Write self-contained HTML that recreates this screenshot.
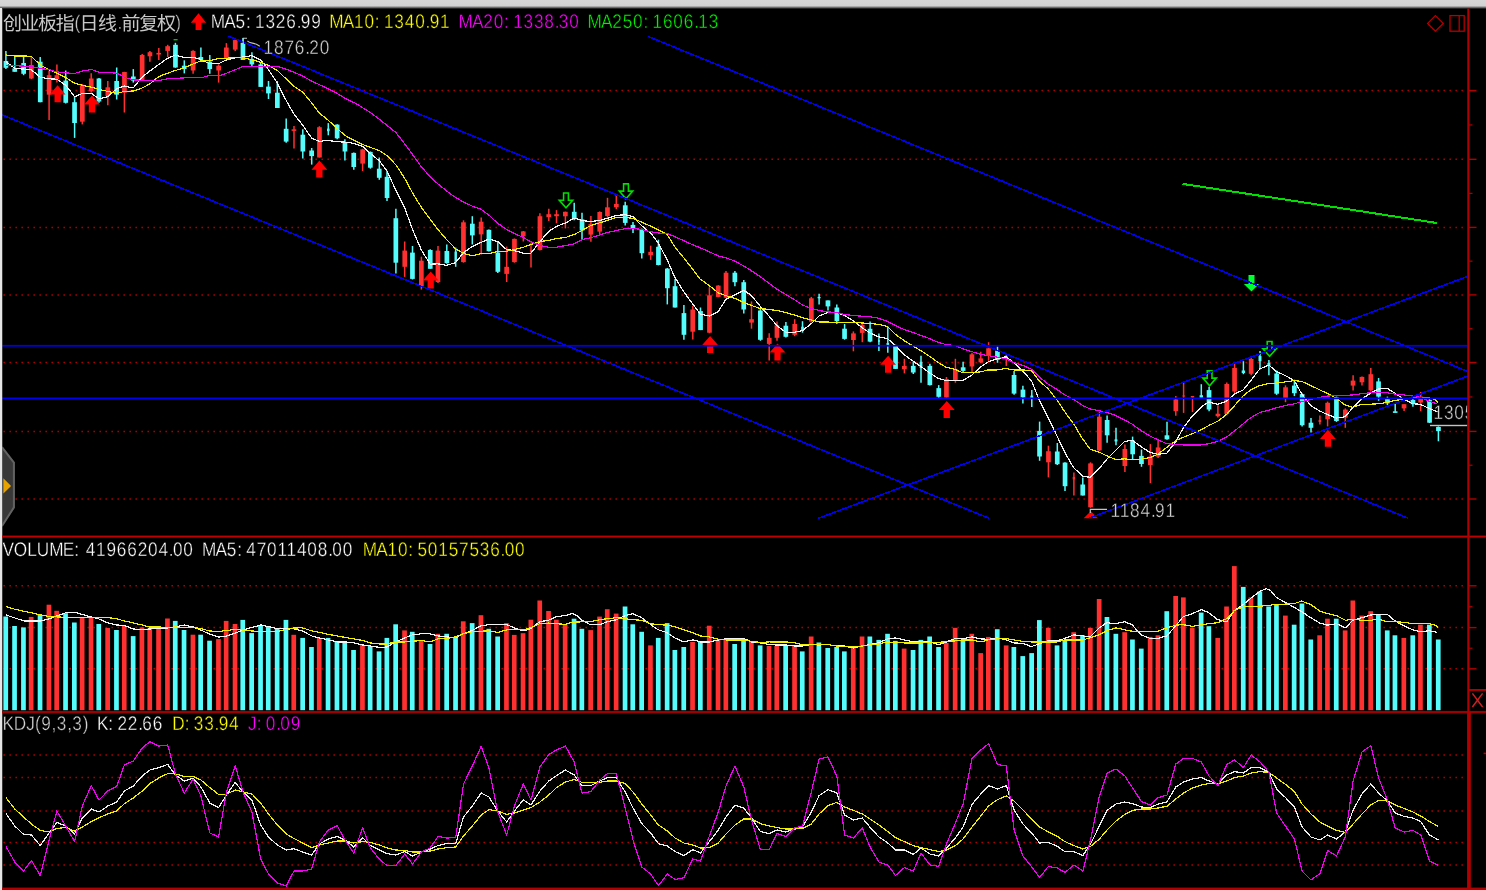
<!DOCTYPE html><html><head><meta charset="utf-8"><title>chart</title><style>html,body{margin:0;padding:0;background:#000;overflow:hidden}svg{display:block;will-change:transform}text{text-rendering:geometricPrecision}</style></head><body><svg width="1486" height="890" viewBox="0 0 1486 890">
<rect x="0" y="0" width="1486" height="890" fill="#000"/>
<line x1="3.45" y1="90.60" x2="1464.00" y2="90.60" stroke="#b40000" stroke-width="1.5" stroke-dasharray="1.5 4.500"/>
<line x1="3.45" y1="159.30" x2="1464.00" y2="159.30" stroke="#b40000" stroke-width="1.5" stroke-dasharray="1.5 4.500"/>
<line x1="3.45" y1="227.40" x2="1464.00" y2="227.40" stroke="#b40000" stroke-width="1.5" stroke-dasharray="1.5 4.500"/>
<line x1="3.45" y1="294.90" x2="1464.00" y2="294.90" stroke="#b40000" stroke-width="1.5" stroke-dasharray="1.5 4.500"/>
<line x1="3.45" y1="362.50" x2="1464.00" y2="362.50" stroke="#b40000" stroke-width="1.5" stroke-dasharray="1.5 4.500"/>
<line x1="3.45" y1="431.40" x2="1464.00" y2="431.40" stroke="#b40000" stroke-width="1.5" stroke-dasharray="1.5 4.500"/>
<line x1="3.45" y1="499.00" x2="1464.00" y2="499.00" stroke="#b40000" stroke-width="1.5" stroke-dasharray="1.5 4.500"/>
<line x1="3.45" y1="585.80" x2="1464.00" y2="585.80" stroke="#b40000" stroke-width="1.5" stroke-dasharray="1.5 4.500"/>
<line x1="3.45" y1="627.60" x2="1464.00" y2="627.60" stroke="#b40000" stroke-width="1.5" stroke-dasharray="1.5 4.500"/>
<line x1="3.45" y1="668.80" x2="1464.00" y2="668.80" stroke="#b40000" stroke-width="1.5" stroke-dasharray="1.5 4.500"/>
<line x1="3.45" y1="755.10" x2="1464.00" y2="755.10" stroke="#b40000" stroke-width="1.5" stroke-dasharray="1.5 4.500"/>
<line x1="3.45" y1="777.50" x2="1464.00" y2="777.50" stroke="#b40000" stroke-width="1.5" stroke-dasharray="1.5 4.500"/>
<line x1="3.45" y1="811.00" x2="1464.00" y2="811.00" stroke="#b40000" stroke-width="1.5" stroke-dasharray="1.5 4.500"/>
<line x1="3.45" y1="842.50" x2="1464.00" y2="842.50" stroke="#b40000" stroke-width="1.5" stroke-dasharray="1.5 4.500"/>
<line x1="3.45" y1="864.90" x2="1464.00" y2="864.90" stroke="#b40000" stroke-width="1.5" stroke-dasharray="1.5 4.500"/>
<path d="M5.9 50.9V69.1" stroke="#54fcfc" stroke-width="1.5"/>
<rect x="3.6" y="61" width="4.7" height="6.8" fill="#54fcfc"/>
<path d="M14.8 57V71.8" stroke="#54fcfc" stroke-width="1.5"/>
<rect x="12.4" y="68.4" width="4.7" height="3.4" fill="#54fcfc"/>
<path d="M23.6 57V75.2" stroke="#54fcfc" stroke-width="1.5"/>
<rect x="21.3" y="63" width="4.7" height="10.8" fill="#54fcfc"/>
<path d="M31.4 57V79.2" stroke="#ff3030" stroke-width="1.5"/>
<rect x="29" y="65" width="4.7" height="13.5" fill="#ff3030"/>
<path d="M40.2 57V102.2" stroke="#54fcfc" stroke-width="1.5"/>
<rect x="37.9" y="61.7" width="4.7" height="40.5" fill="#54fcfc"/>
<path d="M49.1 70.5V120" stroke="#ff3030" stroke-width="1.5"/>
<rect x="46.8" y="75.2" width="4.7" height="19.5" fill="#ff3030"/>
<path d="M56.9 64.4V82.6" stroke="#ff3030" stroke-width="1.5"/>
<rect x="54.5" y="75.2" width="4.7" height="4" fill="#ff3030"/>
<path d="M65.7 70.5V103.5" stroke="#54fcfc" stroke-width="1.5"/>
<rect x="63.4" y="80.6" width="4.7" height="22.2" fill="#54fcfc"/>
<path d="M74.6 96V137.9" stroke="#54fcfc" stroke-width="1.5"/>
<rect x="72.2" y="102.2" width="4.7" height="20.8" fill="#54fcfc"/>
<path d="M82.3 84V124.4" stroke="#ff3030" stroke-width="1.5"/>
<rect x="80" y="85.3" width="4.7" height="36.4" fill="#ff3030"/>
<path d="M91.2 73.2V92.7" stroke="#ff3030" stroke-width="1.5"/>
<rect x="88.9" y="78.5" width="4.7" height="12.9" fill="#ff3030"/>
<path d="M99 78V102.8" stroke="#54fcfc" stroke-width="1.5"/>
<rect x="96.6" y="78.5" width="4.7" height="23" fill="#54fcfc"/>
<path d="M107.8 81V105.3" stroke="#ff3030" stroke-width="1.5"/>
<rect x="105.5" y="87.3" width="4.7" height="8.7" fill="#ff3030"/>
<path d="M116.7 67.5V99.5" stroke="#54fcfc" stroke-width="1.5"/>
<rect x="114.3" y="81" width="4.7" height="13.7" fill="#54fcfc"/>
<path d="M124.4 71.8V112.5" stroke="#ff3030" stroke-width="1.5"/>
<rect x="122.1" y="72" width="4.7" height="20.7" fill="#ff3030"/>
<path d="M133.3 69.1V82.6" stroke="#54fcfc" stroke-width="1.5"/>
<rect x="131" y="76.5" width="4.7" height="4.1" fill="#54fcfc"/>
<path d="M142.2 54V80.2" stroke="#ff3030" stroke-width="1.5"/>
<rect x="139.8" y="55" width="4.7" height="24.9" fill="#ff3030"/>
<path d="M149.9 50.9V61.7" stroke="#ff3030" stroke-width="1.5"/>
<rect x="147.6" y="52.2" width="4.7" height="4.1" fill="#ff3030"/>
<path d="M158.8 47.9V59.9" stroke="#ff3030" stroke-width="1.5"/>
<rect x="156.4" y="52.9" width="4.7" height="1.6" fill="#ff3030"/>
<path d="M167.7 44.8V57" stroke="#ff3030" stroke-width="1.5"/>
<rect x="165.3" y="46.2" width="4.7" height="4.7" fill="#ff3030"/>
<path d="M175.4 42.8V67.8" stroke="#54fcfc" stroke-width="1.5"/>
<rect x="173.1" y="44.8" width="4.7" height="22.7" fill="#54fcfc"/>
<path d="M184.3 60.3V73.4" stroke="#54fcfc" stroke-width="1.5"/>
<rect x="181.9" y="65.7" width="4.7" height="3.4" fill="#54fcfc"/>
<path d="M193.1 50.2V73.8" stroke="#ff3030" stroke-width="1.5"/>
<rect x="190.8" y="50.9" width="4.7" height="19.6" fill="#ff3030"/>
<path d="M200.9 47.5V60.3" stroke="#54fcfc" stroke-width="1.5"/>
<rect x="198.5" y="57" width="4.7" height="3" fill="#54fcfc"/>
<path d="M209.8 55V73.8" stroke="#54fcfc" stroke-width="1.5"/>
<rect x="207.4" y="61.7" width="4.7" height="7.4" fill="#54fcfc"/>
<path d="M218.6 64.4V82.6" stroke="#ff3030" stroke-width="1.5"/>
<rect x="216.3" y="65.7" width="4.7" height="4.8" fill="#ff3030"/>
<path d="M226.4 43.1V59" stroke="#ff3030" stroke-width="1.5"/>
<rect x="224" y="47.5" width="4.7" height="11.5" fill="#ff3030"/>
<path d="M235.2 39.4V50.9" stroke="#ff3030" stroke-width="1.5"/>
<rect x="232.9" y="40.1" width="4.7" height="9.5" fill="#ff3030"/>
<path d="M243 38.1V60" stroke="#54fcfc" stroke-width="1.5"/>
<rect x="240.6" y="42.8" width="4.7" height="17.2" fill="#54fcfc"/>
<path d="M251.9 52.2V66.1" stroke="#54fcfc" stroke-width="1.5"/>
<rect x="249.5" y="59" width="4.7" height="5.4" fill="#54fcfc"/>
<path d="M260.7 62.4V86.9" stroke="#54fcfc" stroke-width="1.5"/>
<rect x="258.4" y="64.4" width="4.7" height="22.5" fill="#54fcfc"/>
<path d="M268.5 81V99" stroke="#54fcfc" stroke-width="1.5"/>
<rect x="266.1" y="86.6" width="4.7" height="6.8" fill="#54fcfc"/>
<path d="M277.3 81V108" stroke="#54fcfc" stroke-width="1.5"/>
<rect x="275" y="92.7" width="4.7" height="15.3" fill="#54fcfc"/>
<path d="M286.2 118.4V142.7" stroke="#54fcfc" stroke-width="1.5"/>
<rect x="283.8" y="128.8" width="4.7" height="12.8" fill="#54fcfc"/>
<path d="M294 126.1V148.5" stroke="#ff3030" stroke-width="1.5"/>
<rect x="291.6" y="129.3" width="4.7" height="1.6" fill="#ff3030"/>
<path d="M302.8 129.2V158.6" stroke="#54fcfc" stroke-width="1.5"/>
<rect x="300.5" y="134.7" width="4.7" height="16.8" fill="#54fcfc"/>
<path d="M311.7 148V164.6" stroke="#54fcfc" stroke-width="1.5"/>
<rect x="309.3" y="150.5" width="4.7" height="5.6" fill="#54fcfc"/>
<path d="M319.4 126.2V157.5" stroke="#ff3030" stroke-width="1.5"/>
<rect x="317.1" y="127.2" width="4.7" height="30.3" fill="#ff3030"/>
<path d="M328.3 123.1V135.3" stroke="#54fcfc" stroke-width="1.5"/>
<rect x="327" y="128.6" width="2.6" height="2.6" fill="#54fcfc"/>
<path d="M337.2 124.2V139.3" stroke="#54fcfc" stroke-width="1.5"/>
<rect x="334.8" y="124.6" width="4.7" height="13.7" fill="#54fcfc"/>
<path d="M344.9 139.3V160.6" stroke="#54fcfc" stroke-width="1.5"/>
<rect x="342.6" y="142.4" width="4.7" height="9.1" fill="#54fcfc"/>
<path d="M353.8 152.5V169.7" stroke="#54fcfc" stroke-width="1.5"/>
<rect x="351.4" y="152.9" width="4.7" height="14.1" fill="#54fcfc"/>
<path d="M362.6 148.8V171.1" stroke="#ff3030" stroke-width="1.5"/>
<rect x="360.3" y="149.4" width="4.7" height="14.2" fill="#ff3030"/>
<path d="M370.4 151.5V168.7" stroke="#54fcfc" stroke-width="1.5"/>
<rect x="368" y="151.9" width="4.7" height="15.8" fill="#54fcfc"/>
<path d="M379.3 157.5V179.8" stroke="#54fcfc" stroke-width="1.5"/>
<rect x="376.9" y="168.7" width="4.7" height="9.1" fill="#54fcfc"/>
<path d="M387 170.7V201" stroke="#54fcfc" stroke-width="1.5"/>
<rect x="384.7" y="176.8" width="4.7" height="21.2" fill="#54fcfc"/>
<path d="M395.9 208.7V273.5" stroke="#54fcfc" stroke-width="1.5"/>
<rect x="393.5" y="218.2" width="4.7" height="44.5" fill="#54fcfc"/>
<path d="M404.7 241.5V276.9" stroke="#ff3030" stroke-width="1.5"/>
<rect x="402.4" y="250.6" width="4.7" height="16.2" fill="#ff3030"/>
<path d="M412.5 246V279.5" stroke="#54fcfc" stroke-width="1.5"/>
<rect x="410.1" y="252.6" width="4.7" height="26.3" fill="#54fcfc"/>
<path d="M421.4 256.7V289.6" stroke="#ff3030" stroke-width="1.5"/>
<rect x="419" y="260.7" width="4.7" height="25.3" fill="#ff3030"/>
<path d="M430.2 249.2V268.8" stroke="#54fcfc" stroke-width="1.5"/>
<rect x="427.9" y="250" width="4.7" height="18.8" fill="#54fcfc"/>
<path d="M438 246V283" stroke="#ff3030" stroke-width="1.5"/>
<rect x="435.6" y="250.6" width="4.7" height="31.4" fill="#ff3030"/>
<path d="M446.8 244.5V263.8" stroke="#54fcfc" stroke-width="1.5"/>
<rect x="444.5" y="251" width="4.7" height="12.1" fill="#54fcfc"/>
<path d="M455.7 247.6V266.8" stroke="#54fcfc" stroke-width="1.5"/>
<rect x="454.5" y="251.6" width="2.4" height="10.1" fill="#54fcfc"/>
<path d="M463.5 220.3V262.7" stroke="#ff3030" stroke-width="1.5"/>
<rect x="461.1" y="222.3" width="4.7" height="39.8" fill="#ff3030"/>
<path d="M472.3 216.2V244.5" stroke="#54fcfc" stroke-width="1.5"/>
<rect x="470" y="223.7" width="4.7" height="11.7" fill="#54fcfc"/>
<path d="M481.2 217.6V254.6" stroke="#ff3030" stroke-width="1.5"/>
<rect x="478.8" y="221.7" width="4.7" height="12.7" fill="#ff3030"/>
<path d="M488.9 229.4V251.6" stroke="#54fcfc" stroke-width="1.5"/>
<rect x="486.6" y="229.8" width="4.7" height="21.4" fill="#54fcfc"/>
<path d="M497.8 241.9V272.9" stroke="#54fcfc" stroke-width="1.5"/>
<rect x="495.5" y="252.6" width="4.7" height="19.2" fill="#54fcfc"/>
<path d="M506.7 246.6V282" stroke="#ff3030" stroke-width="1.5"/>
<rect x="504.3" y="266.8" width="4.7" height="7.1" fill="#ff3030"/>
<path d="M514.4 238.5V262.7" stroke="#ff3030" stroke-width="1.5"/>
<rect x="512.1" y="238.9" width="4.7" height="23.2" fill="#ff3030"/>
<path d="M523.3 231V241.5" stroke="#ff3030" stroke-width="1.5"/>
<rect x="520.9" y="231.4" width="4.7" height="5" fill="#ff3030"/>
<path d="M531 242.5V267.4" stroke="#ff3030" stroke-width="1.5"/>
<rect x="530" y="250" width="2.0" height="2" fill="#ff3030"/>
<path d="M539.9 213.2V250.6" stroke="#ff3030" stroke-width="1.5"/>
<rect x="537.6" y="216.2" width="4.7" height="33.8" fill="#ff3030"/>
<path d="M548.8 208.7V220.9" stroke="#ff3030" stroke-width="1.5"/>
<rect x="546.4" y="214.2" width="4.7" height="3" fill="#ff3030"/>
<path d="M556.5 210.1V223.3" stroke="#ff3030" stroke-width="1.5"/>
<rect x="554.2" y="214.2" width="4.7" height="2" fill="#ff3030"/>
<path d="M565.4 211.6V228.4" stroke="#ff3030" stroke-width="1.5"/>
<rect x="563" y="211.8" width="4.7" height="4.5" fill="#ff3030"/>
<path d="M574.2 202.7V220.3" stroke="#54fcfc" stroke-width="1.5"/>
<rect x="571.9" y="211.8" width="4.7" height="7.5" fill="#54fcfc"/>
<path d="M582 212.8V239.1" stroke="#54fcfc" stroke-width="1.5"/>
<rect x="579.7" y="219.4" width="4.7" height="11.2" fill="#54fcfc"/>
<path d="M590.9 216V241.7" stroke="#ff3030" stroke-width="1.5"/>
<rect x="588.5" y="224.1" width="4.7" height="10.5" fill="#ff3030"/>
<path d="M599.7 211.4V234.2" stroke="#ff3030" stroke-width="1.5"/>
<rect x="597.4" y="212" width="4.7" height="19.6" fill="#ff3030"/>
<path d="M607.5 197.8V219.4" stroke="#ff3030" stroke-width="1.5"/>
<rect x="605.1" y="207.3" width="4.7" height="8.7" fill="#ff3030"/>
<path d="M616.3 194.6V209.3" stroke="#ff3030" stroke-width="1.5"/>
<rect x="614" y="203.9" width="4.7" height="3.4" fill="#ff3030"/>
<path d="M625.2 201.8V225.5" stroke="#54fcfc" stroke-width="1.5"/>
<rect x="622.9" y="205.3" width="4.7" height="17.6" fill="#54fcfc"/>
<path d="M633 222.1V233" stroke="#54fcfc" stroke-width="1.5"/>
<rect x="630.6" y="224.9" width="4.7" height="3.7" fill="#54fcfc"/>
<path d="M641.8 228.6V258.5" stroke="#54fcfc" stroke-width="1.5"/>
<rect x="639.5" y="229.6" width="4.7" height="23.6" fill="#54fcfc"/>
<path d="M650.7 245.7V259.9" stroke="#ff3030" stroke-width="1.5"/>
<rect x="648.3" y="251.8" width="4.7" height="3.5" fill="#ff3030"/>
<path d="M658.4 239.7V265.4" stroke="#54fcfc" stroke-width="1.5"/>
<rect x="656.1" y="246.8" width="4.7" height="18.2" fill="#54fcfc"/>
<path d="M667.3 268V304.4" stroke="#54fcfc" stroke-width="1.5"/>
<rect x="665" y="268.6" width="4.7" height="19.6" fill="#54fcfc"/>
<path d="M675.1 279.1V307.5" stroke="#54fcfc" stroke-width="1.5"/>
<rect x="672.7" y="286.2" width="4.7" height="21.3" fill="#54fcfc"/>
<path d="M683.9 305V339.8" stroke="#54fcfc" stroke-width="1.5"/>
<rect x="681.6" y="313.1" width="4.7" height="21.7" fill="#54fcfc"/>
<path d="M692.8 305.8V339.4" stroke="#ff3030" stroke-width="1.5"/>
<rect x="690.4" y="309.5" width="4.7" height="22.2" fill="#ff3030"/>
<path d="M700.5 307.5V330.1" stroke="#54fcfc" stroke-width="1.5"/>
<rect x="698.2" y="311.1" width="4.7" height="19" fill="#54fcfc"/>
<path d="M709.4 287.2V333.3" stroke="#ff3030" stroke-width="1.5"/>
<rect x="707.1" y="295.3" width="4.7" height="37.4" fill="#ff3030"/>
<path d="M718.3 285.2V297.3" stroke="#ff3030" stroke-width="1.5"/>
<rect x="715.9" y="285.6" width="4.7" height="11.3" fill="#ff3030"/>
<path d="M726 271V298.3" stroke="#ff3030" stroke-width="1.5"/>
<rect x="723.7" y="272.7" width="4.7" height="25" fill="#ff3030"/>
<path d="M734.9 271V286.2" stroke="#54fcfc" stroke-width="1.5"/>
<rect x="732.5" y="272.7" width="4.7" height="9.5" fill="#54fcfc"/>
<path d="M743.8 280.1V313.5" stroke="#54fcfc" stroke-width="1.5"/>
<rect x="741.4" y="282.2" width="4.7" height="27.3" fill="#54fcfc"/>
<path d="M751.5 301.4V328.7" stroke="#ff3030" stroke-width="1.5"/>
<rect x="749.2" y="319.2" width="4.7" height="3.4" fill="#ff3030"/>
<path d="M760.4 307.9V340.8" stroke="#54fcfc" stroke-width="1.5"/>
<rect x="758" y="310.5" width="4.7" height="29.3" fill="#54fcfc"/>
<path d="M769.2 333.3V360.4" stroke="#ff3030" stroke-width="1.5"/>
<rect x="766.9" y="337.8" width="4.7" height="6.1" fill="#ff3030"/>
<path d="M777 321.6V340.8" stroke="#ff3030" stroke-width="1.5"/>
<rect x="774.6" y="325.3" width="4.7" height="12.5" fill="#ff3030"/>
<path d="M785.9 322V337.4" stroke="#54fcfc" stroke-width="1.5"/>
<rect x="783.5" y="325.7" width="4.7" height="11.1" fill="#54fcfc"/>
<path d="M794.7 319.2V336.2" stroke="#ff3030" stroke-width="1.5"/>
<rect x="792.4" y="324" width="4.7" height="10.8" fill="#ff3030"/>
<path d="M802.5 321.2V332.7" stroke="#54fcfc" stroke-width="1.5"/>
<rect x="801.2" y="326.7" width="2.6" height="4" fill="#54fcfc"/>
<path d="M811.3 296.9V322.6" stroke="#ff3030" stroke-width="1.5"/>
<rect x="809" y="298.3" width="4.7" height="23.3" fill="#ff3030"/>
<path d="M819.1 293.7V304.4" stroke="#54fcfc" stroke-width="1.5"/>
<rect x="817.6" y="296.9" width="3.0" height="1.4" fill="#54fcfc"/>
<path d="M828 300.4V310.5" stroke="#54fcfc" stroke-width="1.5"/>
<rect x="825.6" y="300.4" width="4.7" height="6" fill="#54fcfc"/>
<path d="M836.8 304.4V324" stroke="#54fcfc" stroke-width="1.5"/>
<rect x="834.5" y="307.5" width="4.7" height="13.7" fill="#54fcfc"/>
<path d="M844.6 324V339.7" stroke="#54fcfc" stroke-width="1.5"/>
<rect x="842.2" y="328.7" width="4.7" height="10.2" fill="#54fcfc"/>
<path d="M853.4 331.4V351.3" stroke="#ff3030" stroke-width="1.5"/>
<rect x="851.1" y="333.4" width="4.7" height="6.6" fill="#ff3030"/>
<path d="M862.3 323.4V342.2" stroke="#ff3030" stroke-width="1.5"/>
<rect x="859.9" y="324.8" width="4.7" height="8.1" fill="#ff3030"/>
<path d="M870.1 321.4V342.2" stroke="#54fcfc" stroke-width="1.5"/>
<rect x="867.7" y="328.8" width="4.7" height="12.8" fill="#54fcfc"/>
<path d="M878.9 333.5V351.1" stroke="#54fcfc" stroke-width="1.5"/>
<rect x="878" y="340" width="1.8" height="2" fill="#54fcfc"/>
<path d="M887.8 326.4V352.7" stroke="#54fcfc" stroke-width="1.5"/>
<rect x="886.5" y="343" width="2.6" height="2.6" fill="#54fcfc"/>
<path d="M895.5 344.6V368.9" stroke="#54fcfc" stroke-width="1.5"/>
<rect x="893.2" y="345" width="4.7" height="23.9" fill="#54fcfc"/>
<path d="M904.4 358.8V373.4" stroke="#ff3030" stroke-width="1.5"/>
<rect x="902" y="365.9" width="4.7" height="3.4" fill="#ff3030"/>
<path d="M913.3 361.2V374" stroke="#54fcfc" stroke-width="1.5"/>
<rect x="910.9" y="365.9" width="4.7" height="6.6" fill="#54fcfc"/>
<path d="M921 355.7V382.7" stroke="#54fcfc" stroke-width="1.5"/>
<rect x="919.6" y="361.8" width="2.8" height="6.1" fill="#54fcfc"/>
<path d="M929.9 363.8V385.5" stroke="#54fcfc" stroke-width="1.5"/>
<rect x="927.5" y="365.9" width="4.7" height="19.2" fill="#54fcfc"/>
<path d="M938.7 385.1V398.2" stroke="#54fcfc" stroke-width="1.5"/>
<rect x="936.4" y="388.1" width="4.7" height="8.7" fill="#54fcfc"/>
<path d="M946.5 377V398.2" stroke="#ff3030" stroke-width="1.5"/>
<rect x="944.1" y="379" width="4.7" height="18.6" fill="#ff3030"/>
<path d="M955.4 358.8V382.7" stroke="#ff3030" stroke-width="1.5"/>
<rect x="953" y="368.9" width="4.7" height="11.1" fill="#ff3030"/>
<path d="M963.1 361.8V372.5" stroke="#54fcfc" stroke-width="1.5"/>
<rect x="960.8" y="367.3" width="4.7" height="3.6" fill="#54fcfc"/>
<path d="M972 352.7V371.9" stroke="#ff3030" stroke-width="1.5"/>
<rect x="969.6" y="354.3" width="4.7" height="12.2" fill="#ff3030"/>
<path d="M980.8 351.7V363.2" stroke="#ff3030" stroke-width="1.5"/>
<rect x="978.5" y="358.4" width="4.7" height="4" fill="#ff3030"/>
<path d="M988.6 342.2V360.8" stroke="#ff3030" stroke-width="1.5"/>
<rect x="986.2" y="348.3" width="4.7" height="7.4" fill="#ff3030"/>
<path d="M997.5 346.6V362.8" stroke="#54fcfc" stroke-width="1.5"/>
<rect x="995.1" y="350.7" width="4.7" height="9.1" fill="#54fcfc"/>
<path d="M1006.3 354.3V365.9" stroke="#ff3030" stroke-width="1.5"/>
<rect x="1004.9" y="355.7" width="2.8" height="3.1" fill="#ff3030"/>
<path d="M1014.1 370.9V394.8" stroke="#54fcfc" stroke-width="1.5"/>
<rect x="1011.7" y="375" width="4.7" height="18.6" fill="#54fcfc"/>
<path d="M1022.9 385.7V403.6" stroke="#54fcfc" stroke-width="1.5"/>
<rect x="1020.6" y="389.6" width="4.7" height="7.8" fill="#54fcfc"/>
<path d="M1031.8 390.1V407" stroke="#54fcfc" stroke-width="1.5"/>
<rect x="1030.4" y="395.6" width="2.8" height="2.6" fill="#54fcfc"/>
<path d="M1039.6 421.6V460.8" stroke="#54fcfc" stroke-width="1.5"/>
<rect x="1037.2" y="430.9" width="4.7" height="25.6" fill="#54fcfc"/>
<path d="M1048.4 445.7V477.4" stroke="#ff3030" stroke-width="1.5"/>
<rect x="1046.1" y="451.2" width="4.7" height="11.1" fill="#ff3030"/>
<path d="M1057.3 443V465" stroke="#54fcfc" stroke-width="1.5"/>
<rect x="1054.9" y="451.5" width="4.7" height="12.7" fill="#54fcfc"/>
<path d="M1065 462.3V490.9" stroke="#54fcfc" stroke-width="1.5"/>
<rect x="1062.7" y="462.6" width="4.7" height="23.6" fill="#54fcfc"/>
<path d="M1073.9 472.4V495.5" stroke="#ff3030" stroke-width="1.5"/>
<rect x="1072.7" y="476.9" width="2.4" height="2.6" fill="#ff3030"/>
<path d="M1082.8 477.4V495.5" stroke="#54fcfc" stroke-width="1.5"/>
<rect x="1080.4" y="484.5" width="4.7" height="11" fill="#54fcfc"/>
<path d="M1090.5 462.3V507.8" stroke="#ff3030" stroke-width="1.5"/>
<rect x="1088.2" y="463.4" width="4.7" height="43.9" fill="#ff3030"/>
<path d="M1099.4 411.6V450.9" stroke="#ff3030" stroke-width="1.5"/>
<rect x="1097" y="416.7" width="4.7" height="33.7" fill="#ff3030"/>
<path d="M1107.1 415.4V442.7" stroke="#54fcfc" stroke-width="1.5"/>
<rect x="1104.8" y="420" width="4.7" height="15.3" fill="#54fcfc"/>
<path d="M1116 427.8V445.2" stroke="#54fcfc" stroke-width="1.5"/>
<rect x="1114.5" y="439.4" width="3.0" height="2" fill="#54fcfc"/>
<path d="M1124.9 444.4V471.9" stroke="#ff3030" stroke-width="1.5"/>
<rect x="1122.5" y="449" width="4.7" height="17" fill="#ff3030"/>
<path d="M1132.6 436.6V459.7" stroke="#54fcfc" stroke-width="1.5"/>
<rect x="1130.3" y="440.7" width="4.7" height="13.6" fill="#54fcfc"/>
<path d="M1141.5 449.5V466.8" stroke="#54fcfc" stroke-width="1.5"/>
<rect x="1139.1" y="455.9" width="4.7" height="8.1" fill="#54fcfc"/>
<path d="M1150.4 444.1V483.2" stroke="#ff3030" stroke-width="1.5"/>
<rect x="1148" y="456.7" width="4.7" height="8.4" fill="#ff3030"/>
<path d="M1158.1 439V457.9" stroke="#ff3030" stroke-width="1.5"/>
<rect x="1155.8" y="447.4" width="4.7" height="9.3" fill="#ff3030"/>
<path d="M1167 421.8V439.8" stroke="#54fcfc" stroke-width="1.5"/>
<rect x="1164.6" y="435.3" width="4.7" height="4" fill="#54fcfc"/>
<path d="M1175.8 396V415.7" stroke="#ff3030" stroke-width="1.5"/>
<rect x="1173.5" y="399.4" width="4.7" height="11.8" fill="#ff3030"/>
<path d="M1183.6 382.5V412.9" stroke="#ff3030" stroke-width="1.5"/>
<rect x="1182.7" y="395" width="1.8" height="2" fill="#ff3030"/>
<path d="M1192.5 396V412" stroke="#ff3030" stroke-width="1.5"/>
<rect x="1190.8" y="396" width="3.4" height="1.6" fill="#ff3030"/>
<path d="M1201.3 384.2V397.7" stroke="#54fcfc" stroke-width="1.5"/>
<rect x="1199.6" y="395.2" width="3.4" height="2.5" fill="#54fcfc"/>
<path d="M1209.1 386.7V411.2" stroke="#54fcfc" stroke-width="1.5"/>
<rect x="1206.7" y="390.1" width="4.7" height="19.4" fill="#54fcfc"/>
<path d="M1217.9 405.3V417.4" stroke="#ff3030" stroke-width="1.5"/>
<rect x="1215.6" y="413.7" width="4.7" height="2.5" fill="#ff3030"/>
<path d="M1226.8 382.4V415.3" stroke="#ff3030" stroke-width="1.5"/>
<rect x="1224.4" y="384" width="4.7" height="30" fill="#ff3030"/>
<path d="M1234.6 362.9V393.2" stroke="#ff3030" stroke-width="1.5"/>
<rect x="1232.2" y="367.9" width="4.7" height="23.6" fill="#ff3030"/>
<path d="M1243.4 361.2V374.2" stroke="#54fcfc" stroke-width="1.5"/>
<rect x="1241.7" y="370.5" width="3.4" height="2.5" fill="#54fcfc"/>
<path d="M1251.2 357.8V375.2" stroke="#ff3030" stroke-width="1.5"/>
<rect x="1248.8" y="359" width="4.7" height="14.8" fill="#ff3030"/>
<path d="M1260 351.1V369.6" stroke="#54fcfc" stroke-width="1.5"/>
<rect x="1258.5" y="356.1" width="3.0" height="5.1" fill="#54fcfc"/>
<path d="M1268.9 360V375.2" stroke="#54fcfc" stroke-width="1.5"/>
<rect x="1267.4" y="362.9" width="3.0" height="3.3" fill="#54fcfc"/>
<path d="M1276.6 370.5V394.9" stroke="#54fcfc" stroke-width="1.5"/>
<rect x="1274.3" y="373.5" width="4.7" height="20.2" fill="#54fcfc"/>
<path d="M1285.5 385.3V402.2" stroke="#ff3030" stroke-width="1.5"/>
<rect x="1283.2" y="387.3" width="4.7" height="11.5" fill="#ff3030"/>
<path d="M1294.4 379.7V396.1" stroke="#54fcfc" stroke-width="1.5"/>
<rect x="1292" y="385.6" width="4.7" height="7.6" fill="#54fcfc"/>
<path d="M1302.1 393.2V426.4" stroke="#54fcfc" stroke-width="1.5"/>
<rect x="1299.8" y="394.1" width="4.7" height="31.1" fill="#54fcfc"/>
<path d="M1311 418V432.5" stroke="#54fcfc" stroke-width="1.5"/>
<rect x="1308.6" y="422.7" width="4.7" height="5.1" fill="#54fcfc"/>
<path d="M1319.9 415.6V424.4" stroke="#ff3030" stroke-width="1.5"/>
<rect x="1318.6" y="420" width="2.6" height="2" fill="#ff3030"/>
<path d="M1327.6 401.6V426.4" stroke="#ff3030" stroke-width="1.5"/>
<rect x="1325.3" y="402.8" width="4.7" height="16.5" fill="#ff3030"/>
<path d="M1336.5 396.6V421.9" stroke="#54fcfc" stroke-width="1.5"/>
<rect x="1334.1" y="397.4" width="4.7" height="23.6" fill="#54fcfc"/>
<path d="M1345.3 408.4V427.8" stroke="#ff3030" stroke-width="1.5"/>
<rect x="1343" y="409.6" width="4.7" height="8.1" fill="#ff3030"/>
<path d="M1353.1 375.2V390.4" stroke="#ff3030" stroke-width="1.5"/>
<rect x="1350.7" y="380.6" width="4.7" height="5" fill="#ff3030"/>
<path d="M1362 376.4V385.6" stroke="#ff3030" stroke-width="1.5"/>
<rect x="1359.6" y="376.9" width="4.7" height="5.4" fill="#ff3030"/>
<path d="M1370.8 367.9V391.5" stroke="#ff3030" stroke-width="1.5"/>
<rect x="1368.5" y="374.2" width="4.7" height="16.2" fill="#ff3030"/>
<path d="M1378.6 378V400.8" stroke="#54fcfc" stroke-width="1.5"/>
<rect x="1376.2" y="381.4" width="4.7" height="15.2" fill="#54fcfc"/>
<path d="M1387.4 396.6V405" stroke="#54fcfc" stroke-width="1.5"/>
<rect x="1385.1" y="399.1" width="4.7" height="4.2" fill="#54fcfc"/>
<path d="M1395.2 403.3V412.6" stroke="#54fcfc" stroke-width="1.5"/>
<rect x="1392.9" y="411.3" width="4.6" height="1.6" fill="#54fcfc"/>
<path d="M1404.1 404.2V410.9" stroke="#ff3030" stroke-width="1.5"/>
<rect x="1401.7" y="404.2" width="4.7" height="4.2" fill="#ff3030"/>
<path d="M1412.9 399.1V406.7" stroke="#54fcfc" stroke-width="1.5"/>
<rect x="1410.6" y="400" width="4.7" height="4.2" fill="#54fcfc"/>
<path d="M1420.7 392V411.3" stroke="#ff3030" stroke-width="1.5"/>
<rect x="1418.3" y="396.6" width="4.7" height="5.9" fill="#ff3030"/>
<path d="M1429.5 399.1V423" stroke="#54fcfc" stroke-width="1.5"/>
<rect x="1427.2" y="400" width="4.7" height="22.7" fill="#54fcfc"/>
<path d="M1438.4 426.4V441.3" stroke="#54fcfc" stroke-width="1.5"/>
<rect x="1436.1" y="426.9" width="4.7" height="4.2" fill="#54fcfc"/>
<path d="M57.6 85.3L65.5 94.4H60.8V102.3H54.5V94.4H49.7Z" fill="#ff0000"/>
<path d="M92 95.4L99.9 104.5H95.2V112.4H88.8V104.5H84.1Z" fill="#ff0000"/>
<path d="M319.4 160.6L327.3 169.7H322.5V177.6H316.2V169.7H311.5Z" fill="#ff0000"/>
<path d="M430.7 271.4L438.6 280.5H433.8V288.4H427.6V280.5H422.8Z" fill="#ff0000"/>
<path d="M710.1 335.9L718 345H713.2V352.9H707V345H702.2Z" fill="#ff0000"/>
<path d="M777.5 343.4L785.4 352.5H780.6V360.4H774.4V352.5H769.6Z" fill="#ff0000"/>
<path d="M888.1 355.7L896 364.8H891.2V372.7H885V364.8H880.2Z" fill="#ff0000"/>
<path d="M946.8 400.9L954.7 410H949.9V417.9H943.6V410H938.9Z" fill="#ff0000"/>
<path d="M1327.9 429.8L1335.8 438.9H1331.1V446.8H1324.8V438.9H1320Z" fill="#ff0000"/>
<path d="M1090.8 511.2L1098 518.3H1083.6Z" fill="#ff0000"/>
<path d="M563.6 193H568.4V200.2H572.7L566 207.8L559.3 200.2H563.6Z" fill="none" stroke="#00e000" stroke-width="1.6" stroke-linejoin="miter"/>
<path d="M623.6 183.9H628.4V191.1H632.7L626 198.7L619.3 191.1H623.6Z" fill="none" stroke="#00e000" stroke-width="1.6" stroke-linejoin="miter"/>
<path d="M1207.2 370.9H1212V378.1H1216.3L1209.6 385.7L1202.9 378.1H1207.2Z" fill="none" stroke="#00e000" stroke-width="1.6" stroke-linejoin="miter"/>
<path d="M1267.2 341.5H1272V348.7H1276.3L1269.6 356.3L1262.9 348.7H1267.2Z" fill="none" stroke="#00e000" stroke-width="1.6" stroke-linejoin="miter"/>
<path d="M1248.5 274.9H1254.5V283.9H1259.1L1251.5 291.5L1243.9 283.9H1248.5Z" fill="#00ff30"/>
<rect x="173.6" y="39" width="4" height="1.4" fill="#00c000"/>
<polyline points="5.8,61.7 14.8,68.4 23.9,69.1 31.4,69.8 40.2,77.2 49.4,78.8 56.9,79.2 65.7,85.3 74.7,96.8 82.3,93.4 91.4,93.4 99.1,98.8 107.6,96.8 116.8,88.7 124.3,86 133.2,88 142.1,77.2 149.7,71.1 158.9,64.4 167.6,58.3 175.3,55 184.2,57.6 193,57.6 198,58.4 204.8,61.5 209.6,63.7 218.6,63.7 226.1,60 235.2,57.8 242.9,57 251.8,55.6 260.8,60.3 268.2,69.1 277.4,83.3 286,100.1 293.6,113.6 302.7,125.2 311.8,138.3 319.4,141.4 327.9,140.3 337,141.8 344.7,142 353.8,143.4 362.5,146.4 370.4,153.5 379.1,160.6 386.8,170.7 395.7,189.9 404.4,207.1 412.5,229.4 421.2,249.6 430.1,264.2 437.8,263.8 446.5,265.4 455.4,262.7 463.5,252.6 472.2,246.6 480.9,242.5 489,239.1 497.7,241.5 506.6,249.6 514.3,250.6 523.4,253.2 530.9,253.2 540,241.5 548.7,231.4 556.6,226.3 565.2,223.1 574.3,218.1 581.8,220.5 590.8,221.5 599.4,220.5 607.1,218.4 616.2,215.4 625.1,214.8 632.8,216.4 641.5,225.5 650.6,233 658.1,242.7 667.2,259.9 674.7,277.1 683.8,291.7 692.5,303.8 700.2,313.9 709.3,316 718.2,311.5 725.9,299.4 734.6,294.9 743.7,290.3 751.2,295.3 760.3,306.4 769,316 776.9,325.7 785.6,332.1 794.7,332.1 802.4,330.7 811.3,323.6 819,316 827.6,312.5 836.8,312.5 844.4,315.4 853.2,320.8 861.8,327.4 869.9,332.9 878.8,336.9 887.5,338.6 895,345 904.1,354.7 913.2,361.2 920.9,366.5 929.6,372.9 938.7,378.6 946.2,380.6 955.3,380.6 962.8,380.6 971.9,375 980.6,366.9 988.3,361.8 997.4,358.8 1005.9,356.8 1013.6,362.4 1022.7,370.9 1031.6,381 1039.3,400.3 1048.2,417.6 1057.1,436.2 1064.7,452.2 1073.6,467.7 1082.7,476.1 1090.3,477.4 1099.2,468.5 1106.9,459.2 1115.8,450.3 1124.5,441.6 1132.2,440.2 1141,446.6 1150.1,452.5 1157.9,454.2 1166.7,453.3 1175.6,442 1183.2,428 1192,416.2 1201.2,407 1208.8,401.9 1217.6,404.4 1226.5,401.3 1234.2,394.2 1243.3,389.9 1250.7,380.6 1259.6,369.1 1268.9,365.1 1276.1,371.3 1285.2,375.5 1294.2,380.6 1301.8,394.1 1311,405.9 1319.5,410.9 1327,414.3 1336.3,418 1345.1,416.8 1352.8,407.5 1361.6,399.1 1370.5,393.2 1378.5,389 1386.9,388.2 1394.8,393.2 1403.7,399.1 1412.7,403.8 1420.1,404.2 1429,408.4 1437.5,411.8" fill="none" stroke="#f4f4f4" stroke-width="1.2" stroke-linejoin="round" shape-rendering="crispEdges" />
<polyline points="5.8,55 14.8,56 23.9,56 31.4,56.3 40.2,65 49.4,69.8 56.9,73.2 65.7,77.5 74.7,83.3 82.3,85.3 91.4,87.3 99.1,89.3 107.6,91.4 116.8,93.4 124.3,91.4 133.2,91 142.1,88 149.7,84 158.9,76.5 167.6,73.2 175.3,70.5 184.2,67.8 193,64 200.5,61 209.6,60.7 218.6,58.6 226.1,58.3 235.2,57.4 242.9,58 251.8,59.7 260.8,62.4 268.2,65.3 277.4,70.5 286,78.8 293.6,86 302.6,92 311.6,102.8 319.2,112.9 327.9,120 337,128.2 344.7,135.3 353.8,140.3 362.5,144.4 370.4,147.4 379.1,150.5 386.8,155.5 395.7,164.6 404.4,177.8 412.5,192.9 421.2,207.1 430.1,219.2 437.8,229.4 446.5,239.5 455.4,248.6 463.5,253.6 472.2,255.7 480.9,253.6 489,253.6 497.7,251.6 506.6,251.2 514.3,249.6 523.4,247.2 530.9,244.5 540,241.5 548.7,240.5 556.6,238.5 565.2,237.6 574.3,234.5 581.8,230.6 590.8,225.5 599.4,222.9 607.1,220.5 616.2,217.4 625.1,217.4 632.8,218.4 641.5,222.1 650.6,226.1 658.1,229.6 667.2,234.6 674.7,246.8 683.8,257.9 692.5,269 700.2,279.1 709.3,285.6 718.2,292.9 725.9,295.7 734.6,298.3 743.7,302.4 751.2,305.4 760.3,308.5 769,309.5 776.9,310.5 785.6,312.5 794.7,315.1 802.4,317.6 811.3,320 819,322 827.6,322 836.8,322.6 844.2,322.4 853.2,322.5 869.9,323.4 878.8,324.4 887.5,326.4 895,334.1 904.1,340.6 913.2,346.2 920.9,350.7 929.6,356.4 938.7,362.8 946.2,367.3 955.3,369.3 962.8,372.9 971.9,372.5 980.6,371.9 988.3,369.9 997.4,369.9 1005.9,368.5 1013.6,369.9 1022.7,369.9 1031.6,370.9 1039.3,381 1048.2,388.8 1057.1,400.3 1064.7,411.7 1073.6,423.8 1082.7,439 1090.3,449.4 1099.2,452.2 1106.9,455.9 1115.8,459.5 1124.5,458.9 1132.2,459.5 1141,459.2 1150.1,457.5 1157.9,454.2 1166.7,447.4 1175.6,440.7 1183.2,437.3 1192,433.9 1201.2,429.7 1208.8,425.5 1217.6,421.3 1226.5,414.5 1234.2,406 1243.3,395.8 1250.7,389.8 1259.6,385.6 1268.9,383.6 1276.1,383.1 1285.2,381.9 1294.2,380.6 1301.8,381.4 1311,385.6 1319.5,389.8 1327,393.2 1336.3,398.3 1345.1,405 1352.8,407.5 1361.6,404.2 1370.5,404.2 1378.5,403.8 1386.9,402.5 1394.8,400.5 1403.7,399.1 1412.7,397.8 1420.1,397.4 1429,397.8 1434.1,399.1 1438.3,402.5" fill="none" stroke="#f0f000" stroke-width="1.2" stroke-linejoin="round" shape-rendering="crispEdges" />
<polyline points="5.8,65.3 14.8,65.7 23.9,66.1 31.4,66.7 40.2,68.4 49.4,69.8 56.9,71.8 65.7,72.9 74.7,73.4 82.3,71.1 91.4,69.5 99.1,72.1 107.6,72.5 116.8,73.2 124.3,77.2 133.2,79.9 142.1,80.2 149.7,80.6 158.9,80.6 167.6,78.8 175.3,78.3 184.2,77.9 193,77.2 203.5,77.2 209.6,75.2 218.6,75.9 226.1,73.4 235.2,69.8 242.9,66.4 251.8,66.4 260.8,66.4 268.2,66.4 277.4,66.4 286,69.1 293.6,72.1 302.6,75.9 311.6,81.2 319.2,84.6 328,88.7 337,93.4 344.8,98.1 355.9,103.5 364,108.6 370.4,112.5 379.1,119.1 386.8,125.2 395.7,132.3 404.4,143.4 412.5,154.5 421.2,166.6 430.1,176.8 437.8,183.8 446.5,190.9 455.4,197.4 463.5,202 472.2,206.1 480.9,209.1 489,215.2 497.7,223.3 506.6,229.4 514.3,233.4 523.4,237.5 530.9,241.9 540,245.5 548.7,247.2 556.6,247.2 565.2,245.6 574.3,243.8 581.8,239.7 590.8,237.7 599.4,235 607.1,232.6 616.2,230.6 625.1,228.6 632.8,228.1 641.5,229.6 650.6,231.6 658.1,233 667.2,233.6 674.7,236.6 683.8,240.7 692.5,244.7 700.2,247.8 709.3,251.8 718.2,255.9 725.9,257.9 734.6,260.9 743.7,266 751.2,270.6 760.3,276.7 769,283.2 776.9,289.2 785.6,294.3 794.7,299.8 802.4,305 811.3,308.5 819,310.5 827.6,311.9 836.8,312.5 844.2,314.4 853.2,315.6 869.9,316.7 878.8,318.3 887.5,321.4 895,325.4 904.1,329.5 913.2,332.5 920.9,335.5 929.6,338.6 938.7,342.6 946.2,344.6 955.3,345.6 962.8,348.7 971.9,351.7 980.6,354.3 988.3,355.7 997.4,357.2 1005.9,358.8 1013.6,362.4 1022.7,365.3 1031.6,369.3 1039.3,377 1048.2,384.1 1057.1,389.5 1064.7,394.9 1073.6,399.4 1082.7,405.5 1090.3,409 1099.2,410.8 1106.9,412.5 1115.8,415.5 1124.5,420 1132.2,424.1 1141,430.6 1150.1,436.1 1157.9,439.8 1166.7,443.7 1175.6,444.4 1183.2,444.9 1192,444.9 1201.2,444.9 1208.8,443.7 1217.6,441.5 1226.5,437.1 1234.2,431.2 1243.3,423.7 1250.7,417.7 1259.6,412.6 1268.9,410.1 1276.1,407.9 1285.2,405.5 1294.2,403.8 1301.8,401.6 1311,399.5 1319.5,397.4 1327,396.1 1336.3,395.4 1345.1,395.4 1352.8,394.9 1361.6,393.7 1370.5,392.7 1378.5,392.4 1386.9,392.7 1394.8,394.1 1403.7,394.9 1412.7,396.1 1420.1,397.4 1429,401.1 1437.5,404.2" fill="none" stroke="#f000f0" stroke-width="1.2" stroke-linejoin="round" shape-rendering="crispEdges" />
<polyline points="1182.5,183.9 1311.6,203.6 1437.4,223.1" fill="none" stroke="#00e000" stroke-width="2.0" stroke-linejoin="round" shape-rendering="crispEdges" />
<rect x="2" y="344.9" width="1465.5" height="1.7" fill="#0000f0"/>
<rect x="2" y="397.5" width="1465.5" height="1.7" fill="#0000f0"/>
<line x1="2" y1="114.9" x2="989.3" y2="518.4" stroke="#0000f0" stroke-width="1.55" shape-rendering="crispEdges"/>
<line x1="228.4" y1="36.1" x2="1408" y2="518.2" stroke="#0000f0" stroke-width="1.55" shape-rendering="crispEdges"/>
<line x1="647.7" y1="36.3" x2="1467.5" y2="371.4" stroke="#0000f0" stroke-width="1.55" shape-rendering="crispEdges"/>
<line x1="818" y1="518.4" x2="1467.5" y2="276.5" stroke="#0000f0" stroke-width="1.55" shape-rendering="crispEdges"/>
<line x1="1089.1" y1="518.2" x2="1467.5" y2="376.2" stroke="#0000f0" stroke-width="1.55" shape-rendering="crispEdges"/>
<rect x="3.4" y="616.5" width="4.7" height="93.7" fill="#54fcfc"/>
<rect x="12.2" y="626" width="4.7" height="84.2" fill="#54fcfc"/>
<rect x="21.1" y="627.4" width="4.7" height="82.8" fill="#54fcfc"/>
<rect x="28.8" y="616.9" width="4.7" height="93.3" fill="#ff3030"/>
<rect x="37.7" y="614.9" width="4.7" height="95.3" fill="#54fcfc"/>
<rect x="46.6" y="604.7" width="4.7" height="105.5" fill="#ff3030"/>
<rect x="54.3" y="610.8" width="4.7" height="99.4" fill="#ff3030"/>
<rect x="63.2" y="613.2" width="4.7" height="97" fill="#54fcfc"/>
<rect x="72" y="622.5" width="4.7" height="87.7" fill="#54fcfc"/>
<rect x="79.8" y="617.9" width="4.7" height="92.3" fill="#ff3030"/>
<rect x="88.7" y="617.9" width="4.7" height="92.3" fill="#ff3030"/>
<rect x="96.4" y="624" width="4.7" height="86.2" fill="#54fcfc"/>
<rect x="105.3" y="628" width="4.7" height="82.2" fill="#ff3030"/>
<rect x="114.1" y="630" width="4.7" height="80.2" fill="#54fcfc"/>
<rect x="121.9" y="626" width="4.7" height="84.2" fill="#ff3030"/>
<rect x="130.8" y="636.1" width="4.7" height="74.1" fill="#54fcfc"/>
<rect x="139.6" y="627.4" width="4.7" height="82.8" fill="#ff3030"/>
<rect x="147.4" y="628" width="4.7" height="82.2" fill="#ff3030"/>
<rect x="156.2" y="627.4" width="4.7" height="82.8" fill="#ff3030"/>
<rect x="165.1" y="618.5" width="4.7" height="91.7" fill="#ff3030"/>
<rect x="172.9" y="620.9" width="4.7" height="89.3" fill="#54fcfc"/>
<rect x="181.7" y="630" width="4.7" height="80.2" fill="#54fcfc"/>
<rect x="190.6" y="634.7" width="4.7" height="75.5" fill="#ff3030"/>
<rect x="198.3" y="634.7" width="4.7" height="75.5" fill="#54fcfc"/>
<rect x="207.2" y="640.7" width="4.7" height="69.5" fill="#54fcfc"/>
<rect x="216.1" y="639.1" width="4.7" height="71.1" fill="#ff3030"/>
<rect x="223.8" y="620.9" width="4.7" height="89.3" fill="#ff3030"/>
<rect x="232.7" y="624" width="4.7" height="86.2" fill="#ff3030"/>
<rect x="240.4" y="619.9" width="4.7" height="90.3" fill="#54fcfc"/>
<rect x="249.3" y="633.1" width="4.7" height="77.1" fill="#54fcfc"/>
<rect x="258.2" y="625" width="4.7" height="85.2" fill="#54fcfc"/>
<rect x="265.9" y="626" width="4.7" height="84.2" fill="#54fcfc"/>
<rect x="274.8" y="629" width="4.7" height="81.2" fill="#54fcfc"/>
<rect x="283.6" y="619.9" width="4.7" height="90.3" fill="#54fcfc"/>
<rect x="291.4" y="634.8" width="4.7" height="75.4" fill="#ff3030"/>
<rect x="300.3" y="637.9" width="4.7" height="72.3" fill="#54fcfc"/>
<rect x="309.1" y="647" width="4.7" height="63.2" fill="#54fcfc"/>
<rect x="316.9" y="637.9" width="4.7" height="72.3" fill="#ff3030"/>
<rect x="325.7" y="637.9" width="4.7" height="72.3" fill="#54fcfc"/>
<rect x="334.6" y="641.9" width="4.7" height="68.3" fill="#54fcfc"/>
<rect x="342.4" y="641.9" width="4.7" height="68.3" fill="#54fcfc"/>
<rect x="351.2" y="650" width="4.7" height="60.2" fill="#54fcfc"/>
<rect x="360.1" y="645" width="4.7" height="65.2" fill="#ff3030"/>
<rect x="367.8" y="646" width="4.7" height="64.2" fill="#54fcfc"/>
<rect x="376.7" y="651.4" width="4.7" height="58.8" fill="#54fcfc"/>
<rect x="384.5" y="637.9" width="4.7" height="72.3" fill="#54fcfc"/>
<rect x="393.3" y="624.3" width="4.7" height="85.9" fill="#54fcfc"/>
<rect x="402.2" y="630.4" width="4.7" height="79.8" fill="#ff3030"/>
<rect x="409.9" y="631.8" width="4.7" height="78.4" fill="#54fcfc"/>
<rect x="418.8" y="640.5" width="4.7" height="69.7" fill="#ff3030"/>
<rect x="427.7" y="644" width="4.7" height="66.2" fill="#54fcfc"/>
<rect x="435.4" y="633.8" width="4.7" height="76.4" fill="#ff3030"/>
<rect x="444.3" y="633.8" width="4.7" height="76.4" fill="#54fcfc"/>
<rect x="453.2" y="637.9" width="4.7" height="72.3" fill="#54fcfc"/>
<rect x="460.9" y="621.3" width="4.7" height="88.9" fill="#ff3030"/>
<rect x="469.8" y="623.1" width="4.7" height="87.1" fill="#54fcfc"/>
<rect x="478.6" y="615.2" width="4.7" height="95" fill="#ff3030"/>
<rect x="486.4" y="628.8" width="4.7" height="81.4" fill="#54fcfc"/>
<rect x="495.3" y="636.5" width="4.7" height="73.7" fill="#54fcfc"/>
<rect x="504.1" y="623.1" width="4.7" height="87.1" fill="#ff3030"/>
<rect x="511.9" y="634.9" width="4.7" height="75.3" fill="#ff3030"/>
<rect x="520.7" y="633.2" width="4.7" height="77" fill="#ff3030"/>
<rect x="528.5" y="619.7" width="4.7" height="90.5" fill="#ff3030"/>
<rect x="537.4" y="600.5" width="4.7" height="109.7" fill="#ff3030"/>
<rect x="546.2" y="611" width="4.7" height="99.2" fill="#ff3030"/>
<rect x="554" y="619.7" width="4.7" height="90.5" fill="#ff3030"/>
<rect x="562.8" y="624.3" width="4.7" height="85.9" fill="#ff3030"/>
<rect x="571.7" y="618.7" width="4.7" height="91.5" fill="#54fcfc"/>
<rect x="579.5" y="628.8" width="4.7" height="81.4" fill="#54fcfc"/>
<rect x="588.3" y="630.1" width="4.7" height="80.1" fill="#ff3030"/>
<rect x="597.2" y="616.6" width="4.7" height="93.6" fill="#ff3030"/>
<rect x="604.9" y="609.2" width="4.7" height="101" fill="#ff3030"/>
<rect x="613.8" y="613.6" width="4.7" height="96.6" fill="#ff3030"/>
<rect x="622.7" y="606.5" width="4.7" height="103.7" fill="#54fcfc"/>
<rect x="630.4" y="624.3" width="4.7" height="85.9" fill="#54fcfc"/>
<rect x="639.3" y="631.8" width="4.7" height="78.4" fill="#54fcfc"/>
<rect x="648.1" y="645.4" width="4.7" height="64.8" fill="#ff3030"/>
<rect x="655.9" y="637.9" width="4.7" height="72.3" fill="#54fcfc"/>
<rect x="664.8" y="623.1" width="4.7" height="87.1" fill="#54fcfc"/>
<rect x="672.5" y="650" width="4.7" height="60.2" fill="#54fcfc"/>
<rect x="681.4" y="647" width="4.7" height="63.2" fill="#54fcfc"/>
<rect x="690.2" y="641.9" width="4.7" height="68.3" fill="#ff3030"/>
<rect x="698" y="641.9" width="4.7" height="68.3" fill="#54fcfc"/>
<rect x="706.9" y="625.7" width="4.7" height="84.5" fill="#ff3030"/>
<rect x="715.7" y="639.9" width="4.7" height="70.3" fill="#ff3030"/>
<rect x="723.5" y="639.9" width="4.7" height="70.3" fill="#ff3030"/>
<rect x="732.3" y="644" width="4.7" height="66.2" fill="#54fcfc"/>
<rect x="741.2" y="639.9" width="4.7" height="70.3" fill="#54fcfc"/>
<rect x="749" y="641.9" width="4.7" height="68.3" fill="#ff3030"/>
<rect x="757.8" y="645.4" width="4.7" height="64.8" fill="#54fcfc"/>
<rect x="766.7" y="646" width="4.7" height="64.2" fill="#ff3030"/>
<rect x="774.4" y="646" width="4.7" height="64.2" fill="#ff3030"/>
<rect x="783.3" y="645.4" width="4.7" height="64.8" fill="#54fcfc"/>
<rect x="792.2" y="646" width="4.7" height="64.2" fill="#ff3030"/>
<rect x="799.9" y="651.4" width="4.7" height="58.8" fill="#54fcfc"/>
<rect x="808.8" y="636.5" width="4.7" height="73.7" fill="#ff3030"/>
<rect x="816.5" y="642.5" width="4.7" height="67.7" fill="#54fcfc"/>
<rect x="825.4" y="648" width="4.7" height="62.2" fill="#54fcfc"/>
<rect x="834.3" y="647" width="4.7" height="63.2" fill="#54fcfc"/>
<rect x="842" y="651.4" width="4.7" height="58.8" fill="#54fcfc"/>
<rect x="850.9" y="648" width="4.7" height="62.2" fill="#ff3030"/>
<rect x="859.7" y="636.5" width="4.7" height="73.7" fill="#ff3030"/>
<rect x="867.5" y="636.5" width="4.7" height="73.7" fill="#54fcfc"/>
<rect x="876.4" y="639.9" width="4.7" height="70.3" fill="#54fcfc"/>
<rect x="885.2" y="633.8" width="4.7" height="76.4" fill="#54fcfc"/>
<rect x="893" y="640.9" width="4.7" height="69.3" fill="#54fcfc"/>
<rect x="901.8" y="648.6" width="4.7" height="61.6" fill="#ff3030"/>
<rect x="910.7" y="650" width="4.7" height="60.2" fill="#54fcfc"/>
<rect x="918.5" y="639.9" width="4.7" height="70.3" fill="#54fcfc"/>
<rect x="927.3" y="636.5" width="4.7" height="73.7" fill="#54fcfc"/>
<rect x="936.2" y="647" width="4.7" height="63.2" fill="#54fcfc"/>
<rect x="943.9" y="642.9" width="4.7" height="67.3" fill="#ff3030"/>
<rect x="952.8" y="627.8" width="4.7" height="82.4" fill="#ff3030"/>
<rect x="960.6" y="640.9" width="4.7" height="69.3" fill="#54fcfc"/>
<rect x="969.4" y="633.8" width="4.7" height="76.4" fill="#ff3030"/>
<rect x="978.3" y="653.1" width="4.7" height="57.1" fill="#ff3030"/>
<rect x="986" y="636.9" width="4.7" height="73.3" fill="#ff3030"/>
<rect x="994.9" y="629.2" width="4.7" height="81" fill="#54fcfc"/>
<rect x="1003.8" y="645.4" width="4.7" height="64.8" fill="#ff3030"/>
<rect x="1011.5" y="647" width="4.7" height="63.2" fill="#54fcfc"/>
<rect x="1020.4" y="656.1" width="4.7" height="54.1" fill="#54fcfc"/>
<rect x="1029.3" y="653.1" width="4.7" height="57.1" fill="#54fcfc"/>
<rect x="1037" y="620.1" width="4.7" height="90.1" fill="#54fcfc"/>
<rect x="1045.9" y="627.8" width="4.7" height="82.4" fill="#ff3030"/>
<rect x="1054.7" y="645.4" width="4.7" height="64.8" fill="#54fcfc"/>
<rect x="1062.5" y="640.9" width="4.7" height="69.3" fill="#54fcfc"/>
<rect x="1071.4" y="632.2" width="4.7" height="78" fill="#ff3030"/>
<rect x="1080.2" y="635.3" width="4.7" height="74.9" fill="#54fcfc"/>
<rect x="1088" y="627.8" width="4.7" height="82.4" fill="#ff3030"/>
<rect x="1096.8" y="599" width="4.7" height="111.2" fill="#ff3030"/>
<rect x="1104.6" y="617" width="4.7" height="93.2" fill="#54fcfc"/>
<rect x="1113.5" y="633.8" width="4.7" height="76.4" fill="#54fcfc"/>
<rect x="1122.3" y="632.2" width="4.7" height="78" fill="#ff3030"/>
<rect x="1130.1" y="639.5" width="4.7" height="70.7" fill="#54fcfc"/>
<rect x="1138.9" y="648.6" width="4.7" height="61.6" fill="#54fcfc"/>
<rect x="1147.8" y="636.9" width="4.7" height="73.3" fill="#ff3030"/>
<rect x="1155.6" y="635.3" width="4.7" height="74.9" fill="#ff3030"/>
<rect x="1164.4" y="611.2" width="4.7" height="99" fill="#54fcfc"/>
<rect x="1173.3" y="596" width="4.7" height="114.2" fill="#ff3030"/>
<rect x="1181" y="597.4" width="4.7" height="112.8" fill="#ff3030"/>
<rect x="1189.9" y="627.8" width="4.7" height="82.4" fill="#ff3030"/>
<rect x="1198.8" y="612.6" width="4.7" height="97.6" fill="#54fcfc"/>
<rect x="1206.5" y="626.2" width="4.7" height="84" fill="#54fcfc"/>
<rect x="1215.4" y="637.9" width="4.7" height="72.3" fill="#ff3030"/>
<rect x="1224.2" y="606.5" width="4.7" height="103.7" fill="#ff3030"/>
<rect x="1232" y="566.1" width="4.7" height="144.1" fill="#ff3030"/>
<rect x="1240.9" y="586.9" width="4.7" height="123.3" fill="#54fcfc"/>
<rect x="1248.6" y="597.4" width="4.7" height="112.8" fill="#ff3030"/>
<rect x="1257.5" y="591.4" width="4.7" height="118.8" fill="#54fcfc"/>
<rect x="1266.3" y="606.5" width="4.7" height="103.7" fill="#54fcfc"/>
<rect x="1274.1" y="604.9" width="4.7" height="105.3" fill="#54fcfc"/>
<rect x="1283" y="615.6" width="4.7" height="94.6" fill="#ff3030"/>
<rect x="1291.8" y="624.7" width="4.7" height="85.5" fill="#54fcfc"/>
<rect x="1299.6" y="603.5" width="4.7" height="106.7" fill="#54fcfc"/>
<rect x="1308.4" y="639.5" width="4.7" height="70.7" fill="#54fcfc"/>
<rect x="1317.3" y="635.3" width="4.7" height="74.9" fill="#ff3030"/>
<rect x="1325.1" y="618.7" width="4.7" height="91.5" fill="#ff3030"/>
<rect x="1333.9" y="618.7" width="4.7" height="91.5" fill="#54fcfc"/>
<rect x="1342.8" y="630.4" width="4.7" height="79.8" fill="#ff3030"/>
<rect x="1350.5" y="600.5" width="4.7" height="109.7" fill="#ff3030"/>
<rect x="1359.4" y="615.6" width="4.7" height="94.6" fill="#ff3030"/>
<rect x="1368.3" y="611.2" width="4.7" height="99" fill="#ff3030"/>
<rect x="1376" y="614.6" width="4.7" height="95.6" fill="#54fcfc"/>
<rect x="1384.9" y="630.4" width="4.7" height="79.8" fill="#54fcfc"/>
<rect x="1392.6" y="635.3" width="4.7" height="74.9" fill="#54fcfc"/>
<rect x="1401.5" y="637.9" width="4.7" height="72.3" fill="#ff3030"/>
<rect x="1410.4" y="635.3" width="4.7" height="74.9" fill="#54fcfc"/>
<rect x="1418.1" y="624.7" width="4.7" height="85.5" fill="#ff3030"/>
<rect x="1427" y="624.7" width="4.7" height="85.5" fill="#54fcfc"/>
<rect x="1435.9" y="639.5" width="4.7" height="70.7" fill="#54fcfc"/>
<polyline points="5.9,614.9 14.6,617.9 23.9,620.9 40.5,620.9 49.2,618.9 56.6,615.9 65.7,612.8 74.9,612.4 82.3,614.4 91,616.9 98.7,618.9 107.8,622.9 116.7,625 124.4,625.4 132.9,629 142,629.4 149.7,629 158.8,628 167.5,628 175,627 184.1,625 193.2,627 200.7,630 209.8,634.1 218.9,637.1 226.2,636.1 235.3,633.1 242.8,630 251.9,627.4 261,625 268.7,626.6 277.6,628.6 286.3,629 293.7,628.8 302.1,630.8 311.6,635.9 319.3,637.9 328.4,639.9 337.1,641.9 344.6,641.9 353.7,642.9 362.8,645 370.3,646 379.4,647.4 386.7,647 395.8,641.9 404.7,637.9 412.4,634.9 421.1,633.8 430.2,633.8 437.7,635.9 446.8,636.9 455.5,637.9 463.4,633.8 472.1,630.4 481.2,625.8 488.7,624.7 497.8,624.7 506.9,624.7 514.2,627.8 523.3,630.8 530.7,628.8 539.8,621.7 548.5,620.3 556.4,616.6 565.1,615.6 572.2,613.6 577.3,615.6 581.7,620.2 590.5,624.7 599.6,624.7 607.3,621.7 616.4,619.7 625.1,615.6 632.6,613.6 641.7,617.7 650.8,624.7 658.3,629.8 667.4,632.8 674.7,637.9 683.8,641.9 692.9,639.9 700.4,641.9 709.5,641.9 718.6,639.9 725.7,638.9 734.8,638.5 743.9,638.5 751.4,641.9 760.5,642.9 769.6,644.6 776.6,645 785.7,645 794.8,646 802.1,646 811.2,644.6 818.7,645 827.8,644.6 836.9,646 844.4,646 853.5,648 862.2,646 870,644.5 878.5,642.9 887.6,638.9 895.3,637.9 904.4,639.9 913.1,641.9 920.6,641.9 929.7,641.9 938.8,644.6 946.5,641.9 955.4,638.5 962.7,638.9 971.8,636.9 980.7,638.9 988.4,639.3 997.1,637.9 1006.2,639.9 1013.6,642.9 1022.7,643.3 1031.4,646.6 1038.9,644 1048,640.9 1057.1,640.9 1064.6,638.5 1073.7,634.9 1082.8,635.9 1090.1,636.9 1099.2,627.8 1106.7,622.7 1115.8,623.7 1124.5,621.7 1132,624.7 1141.1,634.9 1150.2,638.5 1157.7,638.5 1166.7,635.9 1175.8,625.8 1183.3,616.6 1192.4,613.6 1201.5,609.6 1208.6,612.6 1217.7,619.7 1226.8,621.7 1234.2,610.6 1243.3,604.5 1250.6,598.4 1259.7,591.4 1266.2,588.7 1270.3,590.3 1276.3,597.4 1285.4,602.5 1294.5,607.5 1301.6,611.6 1310.7,617.7 1319.8,623.1 1327.3,625.1 1336.4,623.7 1345.5,627.8 1352.8,620.3 1361.9,617.7 1370.8,615 1378.1,614.2 1387.2,614.2 1394.7,620.7 1403.8,625.8 1412.9,629.8 1420.4,631.8 1429.1,630.8 1437.2,632.4" fill="none" stroke="#f4f4f4" stroke-width="1.2" stroke-linejoin="round" shape-rendering="crispEdges" />
<polyline points="5.9,606.4 14.6,609.2 23.9,611.2 31.4,612.8 40.5,614.9 49.2,616.5 56.6,616.9 65.7,617.3 74.9,617.5 107.8,617.5 116.7,618.9 124.4,620.9 132.9,622.9 142,625 149.7,627 158.8,627 167.5,627.4 175,627 184.1,627.4 193.2,627.4 200.7,628.6 209.8,631 218.9,631.4 226.2,630.6 235.3,629.4 242.8,630 251.9,631 261,631.4 277.6,631.4 286.3,629.4 293.7,628 302.1,627.8 311.6,630.8 319.3,632.4 328.4,634.4 337.1,635.9 344.6,637.3 353.7,638.9 362.8,640.5 370.3,642.9 379.4,644 386.7,644 395.8,641.9 404.7,641.9 412.4,641.3 421.1,640.5 430.2,641.9 437.7,638.9 446.8,638.5 455.5,636.9 463.4,633.8 472.1,631.8 481.2,631.2 488.7,630.8 497.8,632.4 506.9,629.8 523.3,629.8 530.7,627.8 539.8,623.7 548.5,623.1 556.4,623.7 565.1,624.3 572.2,622.3 581.7,621.8 590.5,621.7 599.6,619.7 607.3,618.7 616.4,617.7 625.1,618.7 632.6,619.7 641.7,620.3 650.8,623.7 658.3,624.7 667.4,625.1 674.7,626.8 683.8,629.8 692.9,632.8 700.4,635.9 709.5,636.9 718.6,639.3 725.7,639.9 743.9,639.9 751.4,641.3 760.5,642.5 769.6,641.9 785.7,641.9 794.8,642.9 802.1,644.6 827.8,644.6 836.9,646 844.4,646.6 853.5,646.6 862.2,646 870,645 878.5,644 887.6,641.9 895.3,642.5 904.4,642.9 920.6,642.9 929.7,642.5 938.8,642.5 946.5,641.3 955.4,640.9 962.7,639.9 971.8,639.9 980.7,641.9 988.4,639.9 997.1,638.9 1006.2,638.5 1013.6,639.9 1022.7,641.3 1031.4,641.9 1057.1,641.9 1064.6,639.9 1082.8,639.9 1090.1,637.9 1099.2,634.9 1106.7,630.8 1115.8,627.8 1124.5,629.8 1132,631.2 1157.7,631.2 1166.7,628 1175.8,625.1 1183.3,624.7 1192.4,626.4 1201.5,624.7 1208.6,623.7 1217.7,622.7 1226.8,618.7 1234.2,610.6 1243.3,606.9 1250.6,606.1 1259.7,606.1 1268.6,605.5 1276.3,604.1 1285.4,604.1 1294.5,603.5 1301.6,601.1 1310.7,604.5 1319.8,611 1327.3,613.6 1336.4,615.6 1345.5,620.3 1352.8,619.1 1361.9,620.3 1370.8,620.3 1378.1,619.1 1387.2,621.7 1394.7,621.7 1403.8,622.3 1412.9,623.7 1429.1,623.7 1435.2,625.1 1438.2,627.8" fill="none" stroke="#f0f000" stroke-width="1.2" stroke-linejoin="round" shape-rendering="crispEdges" />
<polyline points="5.9,813.6 14.8,826 23.6,834.4 31.4,835 40.2,845.6 49.1,833 56.9,822.4 65.7,826 74.6,834 82.3,818 91.2,809 99,812 107.8,806 116.7,802 124.4,791 133.3,786 142.2,776 149.9,770 158.8,767.6 167.7,764.4 175.4,775 184.3,781 193.1,778 200.9,787 209.8,803 218.6,807.6 226.4,795 235.2,782.4 243,792 251.9,800 260.7,825 268.5,837 277.3,845 286.2,850 294,848.7 302.8,852 311.7,855 319.4,844 328.3,839 337.2,836.4 344.9,840 353.8,847 362.6,837.6 370.4,845.6 379.3,850 387,853.6 395.9,855 404.7,851.6 412.5,856 421.4,852 430.2,849 438,845.6 446.8,843.6 455.7,843.6 463.5,817 472.3,806 481.2,793 488.9,797 497.8,811 506.7,822 514.4,811 523.3,800 531,805 539.9,791 548.8,781 556.5,775.6 565.4,770 574.2,775 582,785.8 590.9,785.6 599.7,781 607.5,777.6 616.3,777.6 625.2,792 633,808 641.8,823.6 650.7,833 658.4,843.6 667.3,846 675.1,851.6 683.9,855.6 692.8,849.6 700.5,853 709.4,841.6 718.3,830 726,817 734.9,805 743.8,808 751.5,818 760.4,831.6 769.2,833.6 777,830 785.9,832 794.7,828.4 802.5,827 811.3,812 819.1,795.6 828,789.6 836.8,793 844.6,815 853.4,820 862.3,818 870.1,827.3 878.9,837 887.8,843 895.5,850 904.4,850 913.3,854.4 921,848 929.9,854 938.7,856 946.5,848 955.4,838 963.1,827 972,804.4 980.8,794 988.6,785.6 997.5,789 1006.3,785.6 1014.1,810 1022.9,824 1031.8,833 1039.6,843 1048.4,842.4 1057.3,846.4 1065,851.6 1073.9,851.6 1082.8,855.6 1090.5,844 1099.4,826 1107.1,810.4 1116,804 1124.9,802 1132.6,803.6 1141.5,807 1150.4,807.6 1158.1,804 1167,801.8 1175.8,787 1183.6,782 1192.5,779 1201.3,777.6 1209.1,781 1217.9,784 1226.8,775 1234.6,771.6 1243.4,773 1251.2,767.6 1260,767.6 1268.9,772.4 1276.6,789 1285.5,797.6 1294.4,807 1302.1,827 1311,837 1319.9,840 1327.6,835 1336.5,839 1345.3,832 1353.1,810 1362,794 1370.8,784 1378.6,793 1387.4,801 1395.2,813 1404.1,816.4 1412.9,818 1420.7,821.6 1429.5,835 1438.4,840" fill="none" stroke="#f0f0f0" stroke-width="1.2" stroke-linejoin="round" shape-rendering="crispEdges" />
<polyline points="5.9,797.6 14.8,809 23.6,817 31.4,824 40.2,830.4 49.1,832 56.9,828.4 65.7,827.6 74.6,831 82.3,827 91.2,821.6 99,817.6 107.8,814 116.7,811 124.4,803.6 133.3,798 142.2,791 149.9,783.6 158.8,778 167.7,773.6 175.4,774 184.3,776.4 193.1,776.4 200.9,780 209.8,787.6 218.6,794.4 226.4,794.4 235.2,790 243,792 251.9,794 260.7,803 268.5,814 277.3,825 286.2,834 294,838.5 302.8,843 311.7,847.6 319.4,845 328.3,843 337.2,841 344.9,841 353.8,843 362.6,841.6 370.4,842.4 379.3,845 387,848 395.9,850 404.7,850.4 412.5,852 421.4,852 430.2,851 438,849 446.8,847.6 455.7,847 463.5,836 472.3,826 481.2,815 488.9,809.6 497.8,811 506.7,814.4 514.4,813 523.3,810 531,807.6 539.9,802 548.8,795 556.5,787.6 565.4,782 574.2,779.6 582,782.4 590.9,782.4 599.7,782.4 607.5,781 616.3,781 625.2,783.6 633,792 641.8,804 650.7,815 658.4,825 667.3,831 675.1,838 683.9,843 692.8,845 700.5,848 709.4,847.6 718.3,843 726,834 734.9,825 743.8,819 751.5,819 760.4,823.6 769.2,826 777,827.6 785.9,829 794.7,829 802.5,828.4 811.3,824 819.1,814 828,805.6 836.8,802.4 844.6,807 853.4,810.4 862.3,814 870.1,819 878.9,825 887.8,831.6 895.5,837.6 904.4,841.6 913.3,845.6 921,847.6 929.9,849.6 938.7,851.6 946.5,850 955.4,845.6 963.1,839 972,827 980.8,816 988.6,806 997.5,799.6 1006.3,796 1014.1,801 1022.9,810 1031.8,819 1039.6,827 1048.4,832 1057.3,836.4 1065,841.6 1073.9,845.6 1082.8,849 1090.5,846.4 1099.4,839 1107.1,830 1116,821 1124.9,814.4 1132.6,810.4 1141.5,809 1150.4,809 1158.1,808 1167,806.2 1175.8,799 1183.6,793 1192.5,788 1201.3,785 1209.1,783.6 1217.9,784 1226.8,781 1234.6,777.6 1243.4,776 1251.2,773 1260,771.6 1268.9,772.4 1276.6,778 1285.5,784.4 1294.4,791.6 1302.1,804 1311,814 1319.9,822 1327.6,826 1336.5,830.4 1345.3,832.4 1353.1,824 1362,814 1370.8,805 1378.6,800.4 1387.4,801 1395.2,805 1404.1,808.4 1412.9,812 1420.7,816 1429.5,821.6 1438.4,826.4" fill="none" stroke="#f0f000" stroke-width="1.2" stroke-linejoin="round" shape-rendering="crispEdges" />
<polyline points="5.9,846.4 14.8,862 23.6,871 31.4,860.4 40.2,875.6 49.1,840 56.9,811 65.7,826 74.6,841.6 82.3,806 91.2,785.6 99,800 107.8,791 116.7,786.4 124.4,765 133.3,761 142.2,748 149.9,741.6 158.8,746 167.7,745 175.4,774 184.3,793 193.1,779 200.9,796 209.8,833 218.6,837 226.4,792 235.2,765.6 243,792 251.9,812 260.7,859 268.5,874 277.3,883 286.2,886 294,871 302.8,871 311.7,869 319.4,842 328.3,830 337.2,825.6 344.9,840 353.8,853 362.6,827.6 370.4,848 379.3,859 387,865.6 395.9,865.6 404.7,854 412.5,864 421.4,852 430.2,848 438,836.4 446.8,838 455.7,837.6 463.5,784 472.3,766 481.2,746.4 488.9,768 497.8,812 506.7,835 514.4,806 523.3,784 531,800 539.9,767 548.8,754.4 556.5,750 565.4,746 574.2,762 582,793 590.9,791.6 599.7,780 607.5,773.6 616.3,773.6 625.2,808 633,840 641.8,867 650.7,874 658.4,885.6 667.3,874 675.1,879.6 683.9,877.6 692.8,859 700.5,861 709.4,836 718.3,812 726,786 734.9,766 743.8,787 751.5,820 760.4,849.6 769.2,849.6 777,833.6 785.9,836.4 794.7,828 802.5,826 811.3,792 819.1,759 828,757 836.8,776 844.6,835 853.4,838 862.3,828 870.1,847 878.9,862 887.8,865 895.5,875.6 904.4,867.6 913.3,871 921,853 929.9,865 938.7,866.4 946.5,844 955.4,823 963.1,804 972,758.4 980.8,750 988.6,743.6 997.5,764.4 1006.3,766 1014.1,830 1022.9,856 1031.8,867 1039.6,877.6 1048.4,866.4 1057.3,868 1065,872.4 1073.9,865 1082.8,871 1090.5,840 1099.4,796 1107.1,773 1116,769 1124.9,776 1132.6,788 1141.5,801.6 1150.4,805 1158.1,797.6 1167,795 1175.8,764 1183.6,758.4 1192.5,758.4 1201.3,762 1209.1,776 1217.9,785.6 1226.8,764.4 1234.6,760 1243.4,767.6 1251.2,755 1260,762 1268.9,772 1276.6,813 1285.5,826 1294.4,839 1302.1,871 1311,880 1319.9,873.6 1327.6,850.4 1336.5,856 1345.3,837 1353.1,781 1362,752 1370.8,745.6 1378.6,778 1387.4,800 1395.2,828 1404.1,832 1412.9,830.4 1420.7,835 1429.5,861 1438.4,865.6" fill="none" stroke="#f000f0" stroke-width="1.2" stroke-linejoin="round" shape-rendering="crispEdges" />
<polyline points="243.2,43.1 243.2,38.2 247,38.2" fill="none" stroke="#c4c4c4" stroke-width="1.1"/>
<polyline points="247.4,41 250,42.6 253.5,43.4 256.5,44.2 259.8,46.2" fill="none" stroke="#c4c4c4" stroke-width="1.1"/>
<text transform="translate(263.60,53.80) scale(1,1.14)" font-family="Liberation Sans, sans-serif" font-size="17.2" fill="#d2d2d2" stroke="#000" stroke-width="0.32" dx="0 0.83 0.83 0.83 0.83 -0.68 0.83" >1876.20</text>
<polyline points="1090.3,513 1090.3,509.3 1107,509.3" fill="none" stroke="#c4c4c4" stroke-width="1.2"/>
<text transform="translate(1110.60,517.40) scale(1,1.14)" font-family="Liberation Sans, sans-serif" font-size="17.2" fill="#d2d2d2" stroke="#000" stroke-width="0.32" dx="0 0.83 0.83 0.83 0.83 -0.68 0.83" >1184.91</text>
<clipPath id="cl"><rect x="1425" y="395" width="42.3" height="40"/></clipPath>
<g clip-path="url(#cl)"><text transform="translate(1433.50,418.90) scale(1,1.14)" font-family="Liberation Sans, sans-serif" font-size="17.2" fill="#d2d2d2" stroke="#000" stroke-width="0.32" dx="0 0.83 0.83 0.83 0.83 -0.68 0.83" >1305.26</text>
<rect x="1430" y="424.8" width="40" height="1.4" fill="#c4c4c4"/></g>
<path d="M198.5 13.2L206.2 22.8H201.4V30H195.6V22.8H190.8Z" fill="#ff0000"/>
<path d="M2 446.6 L14.8 462.4 V507.6 L2 526.8 Z" fill="#3c3c3c" fill-opacity="0.93"/>
<path d="M2 447.2 L13.9 462.6 V507.4 L2 526" fill="none" stroke="#626262" stroke-width="2"/>
<path d="M3.4 478.2 L11.1 486 L3.4 493.6 Z" fill="#e8a200"/>
<defs><linearGradient id="tg" x1="0" y1="0" x2="0" y2="1"><stop offset="0" stop-color="#d6d6d6"/><stop offset="0.62" stop-color="#d2d2d2"/><stop offset="0.8" stop-color="#6a6a6a"/><stop offset="0.96" stop-color="#000"/></linearGradient></defs>
<rect x="0" y="0" width="1486" height="9.4" fill="url(#tg)"/>
<rect x="0" y="8" width="2" height="882" fill="#e6e6e6"/>
<rect x="2" y="8.6" width="0.5" height="882" fill="#777"/>
<rect x="2" y="535.6" width="1484" height="1.9" fill="#c00000"/>
<rect x="2" y="710.9" width="1484" height="2.3" fill="#9c0000"/>
<rect x="2" y="887.6" width="1484" height="2.4" fill="#b00000"/>
<rect x="1467.30" y="8.5" width="2.1" height="882" fill="#b00000"/>
<rect x="1467.30" y="712" width="3.5" height="178" fill="#b00000"/>
<rect x="1468.30" y="689" width="20" height="1.9" fill="#b40000"/>
<path d="M1472.4 693.4 L1482.6 707 M1482.6 693.4 L1472.4 707" stroke="#d02020" stroke-width="1.5" fill="none"/>
<rect x="1483.6" y="752.6" width="2.4" height="1.6" fill="#b00000"/>
<rect x="1468.30" y="89.90" width="8.2" height="1.4" fill="#b00000"/>
<rect x="1468.30" y="158.60" width="8.2" height="1.4" fill="#b00000"/>
<rect x="1468.30" y="226.70" width="8.2" height="1.4" fill="#b00000"/>
<rect x="1468.30" y="294.20" width="8.2" height="1.4" fill="#b00000"/>
<rect x="1468.30" y="361.80" width="8.2" height="1.4" fill="#b00000"/>
<rect x="1468.30" y="430.70" width="8.2" height="1.4" fill="#b00000"/>
<rect x="1468.30" y="498.30" width="8.2" height="1.4" fill="#b00000"/>
<rect x="1468.30" y="585.10" width="8.2" height="1.4" fill="#b00000"/>
<rect x="1468.30" y="626.90" width="8.2" height="1.4" fill="#b00000"/>
<rect x="1468.30" y="668.10" width="8.2" height="1.4" fill="#b00000"/>
<rect x="1468.30" y="124.35" width="4.2" height="1.2" fill="#b00000"/>
<rect x="1468.30" y="192.75" width="4.2" height="1.2" fill="#b00000"/>
<rect x="1468.30" y="260.55" width="4.2" height="1.2" fill="#b00000"/>
<rect x="1468.30" y="328.10" width="4.2" height="1.2" fill="#b00000"/>
<rect x="1468.30" y="396.35" width="4.2" height="1.2" fill="#b00000"/>
<rect x="1468.30" y="464.60" width="4.2" height="1.2" fill="#b00000"/>
<rect x="1468.30" y="606.10" width="4.2" height="1.2" fill="#b00000"/>
<rect x="1468.30" y="647.60" width="4.2" height="1.2" fill="#b00000"/>
<rect x="1468.30" y="689.20" width="4.2" height="1.2" fill="#b00000"/>
<g fill="none" stroke="#b40000" stroke-width="1.3">
<path d="M1435.4 15.6 L1443.2 23.4 L1435.4 31.2 L1427.6 23.4 Z"/>
<rect x="1450" y="15.6" width="14.2" height="15.6"/>
<line x1="1459.2" y1="15.6" x2="1459.2" y2="31.2"/>
</g>
<g>
<text x="3.00 20.55 38.10 55.65" y="29.6" font-family="Liberation Sans, Noto Sans CJK SC, sans-serif" font-size="19" fill="#c8c8c8">创业板指</text>
<text x="79.60 98.00" y="29.6" font-family="Liberation Sans, Noto Sans CJK SC, sans-serif" font-size="19" fill="#c8c8c8">日线</text>
<text x="121.40 139.25 157.10" y="29.6" font-family="Liberation Sans, Noto Sans CJK SC, sans-serif" font-size="19" fill="#c8c8c8">前复权</text>
<text transform="translate(74.60,29.00) scale(1,1.14)" font-family="Liberation Sans, sans-serif" font-size="17.2" fill="#c8c8c8" stroke="#000" stroke-width="0.32" dx="0" >(</text>
<text transform="translate(117.50,29.00) scale(1,1.14)" font-family="Liberation Sans, sans-serif" font-size="17.2" fill="#c8c8c8" stroke="#000" stroke-width="0.32" dx="0" >.</text>
<text transform="translate(175.20,29.00) scale(1,1.14)" font-family="Liberation Sans, sans-serif" font-size="17.2" fill="#c8c8c8" stroke="#000" stroke-width="0.32" dx="0" >)</text>
<text transform="translate(210.70,28.40) scale(1,1.14)" font-family="Liberation Sans, sans-serif" font-size="17.2" fill="#ffffff" stroke="#000" stroke-width="0.32" dx="0 -0.73 -0.17 0.83 -0.38 -0.08 0.83 0.83 0.83 0.83 -0.68 0.83" >MA5: 1326.99</text>
<text transform="translate(329.20,28.40) scale(1,1.14)" font-family="Liberation Sans, sans-serif" font-size="17.2" fill="#ffff00" stroke="#000" stroke-width="0.32" dx="0 -0.73 -0.17 0.83 0.83 -0.38 -0.08 0.83 0.83 0.83 0.83 -0.68 0.83" >MA10: 1340.91</text>
<text transform="translate(458.40,28.40) scale(1,1.14)" font-family="Liberation Sans, sans-serif" font-size="17.2" fill="#ff00ff" stroke="#000" stroke-width="0.32" dx="0 -0.73 -0.17 0.83 0.83 -0.38 -0.08 0.83 0.83 0.83 0.83 -0.68 0.83" >MA20: 1338.30</text>
<text transform="translate(587.40,28.40) scale(1,1.14)" font-family="Liberation Sans, sans-serif" font-size="17.2" fill="#00f000" stroke="#000" stroke-width="0.32" dx="0 -0.73 -0.17 0.83 0.83 0.83 -0.38 -0.08 0.83 0.83 0.83 0.83 -0.68 0.83" >MA250: 1606.13</text>
<text transform="translate(2.40,555.60) scale(1,1.14)" font-family="Liberation Sans, sans-serif" font-size="17.2" fill="#ffffff" stroke="#000" stroke-width="0.32" dx="0 0 0 0 0 -0.73 0" >VOLUME:</text>
<text transform="translate(85.70,555.60) scale(1,1.14)" font-family="Liberation Sans, sans-serif" font-size="17.2" fill="#ffffff" stroke="#000" stroke-width="0.32" dx="0 0.83 0.83 0.83 0.83 0.83 0.83 0.83 0.83 -0.68 0.83" >41966204.00</text>
<text transform="translate(201.90,555.60) scale(1,1.14)" font-family="Liberation Sans, sans-serif" font-size="17.2" fill="#ffffff" stroke="#000" stroke-width="0.32" dx="0 -0.73 -0.17 0.83 -0.38 -0.08 0.83 0.83 0.83 0.83 0.83 0.83 0.83 0.83 -0.68 0.83" >MA5: 47011408.00</text>
<text transform="translate(362.70,555.60) scale(1,1.14)" font-family="Liberation Sans, sans-serif" font-size="17.2" fill="#ffff00" stroke="#000" stroke-width="0.32" dx="0 -0.73 -0.17 0.83 0.83 -0.38 -0.08 0.83 0.83 0.83 0.83 0.83 0.83 0.83 0.83 -0.68 0.83" >MA10: 50157536.00</text>
<text transform="translate(2.40,730.00) scale(1,1.14)" font-family="Liberation Sans, sans-serif" font-size="17.2" fill="#d4d4d4" stroke="#000" stroke-width="0.32" dx="0 0 0 0 0.57 0.83 0.42 0.83 0.42 0.83" >KDJ(9,3,3)</text>
<text transform="translate(96.90,730.00) scale(1,1.14)" font-family="Liberation Sans, sans-serif" font-size="17.2" fill="#ffffff" stroke="#000" stroke-width="0.32" dx="0 0 -0.38 -0.08 0.83 0.83 -0.68 0.83" >K: 22.66</text>
<text transform="translate(172.30,730.00) scale(1,1.14)" font-family="Liberation Sans, sans-serif" font-size="17.2" fill="#ffff00" stroke="#000" stroke-width="0.32" dx="0 0 -0.38 -0.08 0.83 0.83 -0.68 0.83" >D: 33.94</text>
<text transform="translate(248.10,730.00) scale(1,1.14)" font-family="Liberation Sans, sans-serif" font-size="17.2" fill="#ff00ff" stroke="#000" stroke-width="0.32" dx="0 0 -0.38 -0.08 0.83 -0.68 0.83" >J: 0.09</text>
</g>
</svg></body></html>
